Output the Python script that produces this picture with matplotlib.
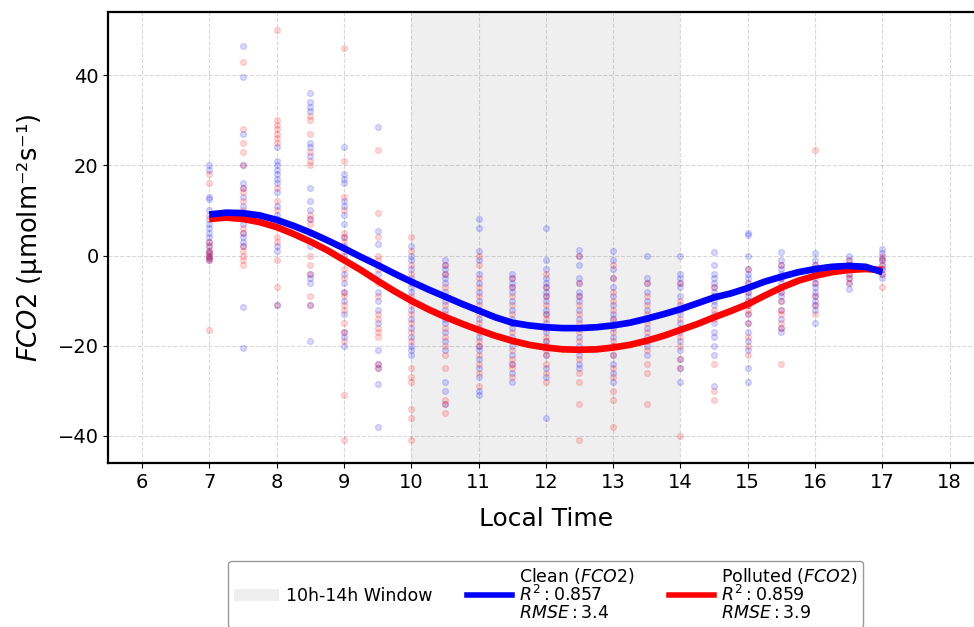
import numpy as np
import matplotlib
matplotlib.use("Agg")
import matplotlib.pyplot as plt
from matplotlib.patches import Patch
from matplotlib.lines import Line2D

# half-hour time steps of the observations
hours = [7, 7.5, 8, 8.5, 9, 9.5, 10, 10.5, 11, 11.5, 12, 12.5, 13, 13.5,
         14, 14.5, 15, 15.5, 16, 16.5, 17]

clean_obs = [
    [20, 19, 13, 12.5, 10, 8, 7, 6, 5, 4, 3, 2, 1, 0.5, 0, -0.5, -1],
    [46.5, 39.5, 27, 20, 16, 15, 13, 11, 7, 5, 4, 3, 2, -11.5, -20.5],
    [24, 21, 20, 19, 18, 17, 16, 14, 11, 9, 8, 2, 1, -11],
    [36, 34, 33, 32, 25, 24, 22, 15, 12, 10, 8, 5, 2, -4, -5, -6, -11, -19],
    [24, 18, 17, 16, 12, 11, 9, 7, 4, 2, 0, -4, -6, -8, -10, -13, -17, -18, -20],
    [28.5, 5.5, 2.5, -2, -4, -8, -10, -12, -15, -21, -24, -25, -28.5, -38],
    [2, 0, -1, -3, -5, -7, -8, -10, -12, -14, -16, -18, -20, -21, -22],
    [-1, -2, -3, -4, -5, -6, -8, -10, -12, -14, -15, -17, -19, -21, -28, -30, -33],
    [8, 6, 1, -1, -4, -6, -8, -10, -12, -14, -16, -18, -20, -21, -23, -25, -27, -30, -31],
    [-4, -5, -6, -7, -8, -10, -12, -14, -15, -16, -18, -20, -22, -24, -26, -28],
    [6, -1, -3, -5, -6, -7, -8, -9, -10, -12, -13, -15, -17, -19, -20, -22, -25, -27, -36],
    [1.3, 0, -2, -5, -6, -8, -9, -10, -12, -14, -16, -18, -20, -22, -24, -25],
    [1, -1, -3, -5, -7, -9, -11, -13, -14, -16, -18, -20, -22, -24, -26, -28],
    [0, -5, -6, -8, -10, -12, -14, -16, -18, -20, -22],
    [0, -4, -5, -6, -7, -9, -11, -13, -15, -17, -19, -21, -23, -25, -28],
    [0.7, -2, -4, -5, -6, -7, -8, -9, -10, -11, -13, -15, -17, -18, -20, -22, -29],
    [5, 4.5, 0, -3, -4, -5, -6, -7, -8, -9, -10, -11, -13, -15, -17, -19, -21, -25, -28],
    [0.7, -1, -2, -3, -4, -5, -6, -7, -8, -9, -10, -12, -14, -16, -17],
    [0.6, -1, -2, -3, -4, -5, -6, -7, -8, -9, -10, -11, -12, -15],
    [0, -1, -2, -3, -4, -5, -6, -7.5],
    [1.5, 0.5, -0.5, -1, -2, -3, -4, -5],
]
polluted_obs = [
    [18, 16, 9, 3, 2, 1, 0.5, 0, -0.5, -1, -16.5],
    [43, 28, 25, 23, 20, 15, 14, 12, 10, 6, 5, 2, 1, 0, -1, -2],
    [50, 30, 29, 28, 27, 26, 25, 15, 12, 10, 7, 4, 3, -1, -7, -11],
    [31, 30, 27, 23, 21, 20, 9, 8, 7, 0, -2, -4, -9, -11],
    [46, 21, 13, 10, 5, 4, 3, 1, -1, -3, -5, -8, -9, -11, -12, -15, -17, -19, -31, -41],
    [23.5, 9.5, 4, 0, -1, -3, -6, -9, -13, -14, -16, -17, -18, -24, -25],
    [4, 1, -2, -4, -6, -9, -11, -13, -15, -17, -19, -25, -27, -28, -34, -36, -41],
    [-2, -4, -7, -9, -11, -13, -16, -18, -20, -22, -25, -32, -33, -35],
    [0, -2, -5, -7, -9, -11, -13, -15, -17, -19, -20, -22, -24, -26, -29],
    [-5, -7, -9, -11, -13, -15, -17, -19, -21, -23, -24, -25, -27],
    [-4, -7, -9, -11, -13, -14, -16, -18, -19, -21, -22, -24, -26, -28],
    [0, -6, -9, -11, -13, -15, -17, -19, -21, -23, -26, -28, -33, -41],
    [-2, -5, -8, -10, -12, -14, -17, -19, -20, -22, -25, -27, -30, -32, -38],
    [-6, -9, -11, -13, -15, -17, -19, -21, -24, -26, -33],
    [-6, -10, -12, -14, -16, -18, -20, -23, -25, -40],
    [-7, -9, -12, -14, -24, -30, -32],
    [-3, -6, -8, -10, -11, -12, -13, -15, -18, -20, -22],
    [-2, -5, -8, -10, -12, -13, -15, -16, -24],
    [23.5, -2, -4, -6, -9, -11, -13],
    [-1, -2, -3, -4, -5, -6],
    [0, -1, -2, -3, -4, -7],
]

# fitted curves, every quarter hour from 7 to 17
fit_hours = [7, 7.25, 7.5, 7.75, 8, 8.25, 8.5, 8.75, 9, 9.25, 9.5, 9.75,
             10, 10.25, 10.5, 10.75, 11, 11.25, 11.5, 11.75, 12, 12.25, 12.5,
             12.75, 13, 13.25, 13.5, 13.75, 14, 14.25, 14.5, 14.75, 15, 15.25,
             15.5, 15.75, 16, 16.25, 16.5, 16.75, 17]
clean_fit = [9.1, 9.5, 9.4, 8.9, 7.9, 6.6, 5.1, 3.4, 1.6, -0.3, -2.1, -4.0,
             -5.8, -7.5, -9.1, -10.7, -12.2, -13.7, -14.9, -15.5, -15.9, -16.1,
             -16.1, -15.9, -15.5, -14.9, -14.0, -13.0, -11.9, -10.6, -9.3, -8.4,
             -7.2, -5.8, -4.7, -3.7, -3.0, -2.5, -2.3, -2.5, -3.7]
polluted_fit = [8.1, 8.4, 8.1, 7.4, 6.3, 4.8, 3.1, 1.2, -1.0, -3.2, -5.6, -7.9,
                -10.0, -11.9, -13.6, -15.1, -16.5, -17.8, -18.9, -19.8, -20.4,
                -20.8, -20.9, -20.8, -20.4, -19.8, -18.9, -17.8, -16.5, -15.2,
                -13.7, -12.3, -10.8, -8.9, -7.1, -5.6, -4.5, -3.7, -3.2, -3.0, -3.2]

clean_label = "Clean ($FCO2$)\n$R^2: 0.857$\n$RMSE: 3.4$"
polluted_label = "Polluted ($FCO2$)\n$R^2: 0.859$\n$RMSE: 3.9$"

fig = plt.figure(figsize=(9.74, 6.27), dpi=100)
ax = fig.add_axes([0.1112, 0.2616, 0.8984, 0.7193])

ax.axvspan(10, 14, color="lightgray", alpha=0.35, lw=0, zorder=0)

for h, cv, pv in zip(hours, clean_obs, polluted_obs):
    ax.scatter([h] * len(cv), cv, s=18, color="blue", alpha=0.15, zorder=2)
    ax.scatter([h] * len(pv), pv, s=18, color="red", alpha=0.15, zorder=2)

ax.plot(fit_hours, clean_fit, color="blue", lw=4.8, zorder=4, solid_capstyle="butt")
ax.plot(fit_hours, polluted_fit, color="red", lw=4.8, zorder=3, solid_capstyle="butt")

ax.set_xlim(5.5, 18.5)
ax.set_ylim(-46, 54)
ax.set_xticks(range(6, 19))
ax.set_yticks([-40, -20, 0, 20, 40])
ax.tick_params(labelsize=14)
ax.grid(True, ls="--", color="gray", alpha=0.3)
ax.set_axisbelow(True)
for sp in ax.spines.values():
    sp.set_linewidth(1.6)

ax.set_xlabel("Local Time", fontsize=18, labelpad=11)
ax.set_ylabel("$FCO2$ (μmolm⁻²s⁻¹)", fontsize=18.5, labelpad=9)

handles = [Patch(facecolor="lightgray", alpha=0.35, edgecolor="none"),
           Line2D([0], [0], color="blue", lw=4),
           Line2D([0], [0], color="red", lw=4)]
labels = ["10h-14h Window", clean_label, polluted_label]
leg = ax.legend(handles, labels, loc="upper center", bbox_to_anchor=(0.5, -0.197),
                ncol=3, fontsize=12.5, handlelength=2.6, handletextpad=0.4,
                columnspacing=2.0, edgecolor="gray", borderaxespad=0.5,
                borderpad=0.3)
for t in leg.get_texts():
    t.set_linespacing(0.95)

fig.savefig("out.png", dpi=100)
